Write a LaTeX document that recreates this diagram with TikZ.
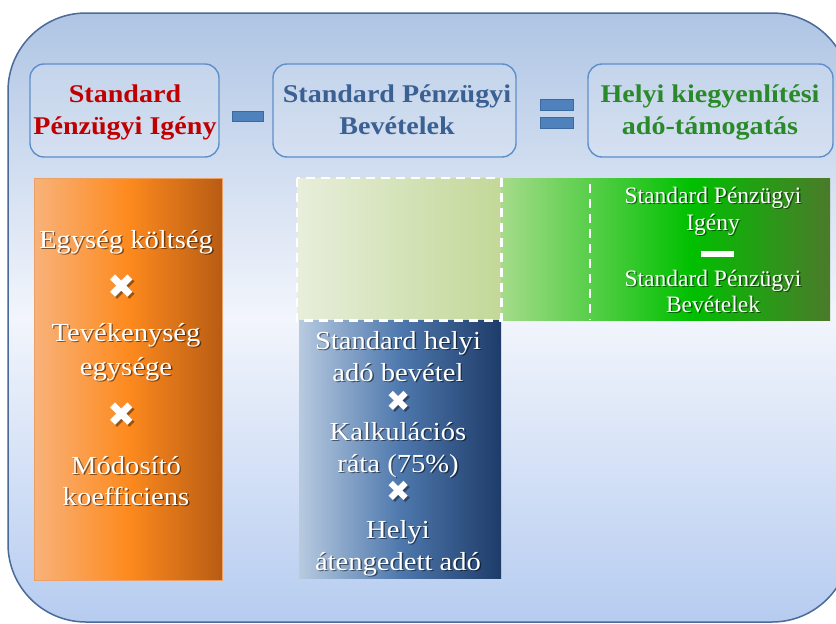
\documentclass[tikz,border=0pt]{standalone}
\usepackage{fontspec}
\newfontfamily\wideserif{Liberation Serif}[FakeStretch=1.1]
\newfontfamily\plainserif{Liberation Serif}
\newfontfamily\symfont{DejaVu Sans}
\definecolor{bgtop}{HTML}{AFC5E4}
\definecolor{bgmid}{HTML}{F2F5FC}
\definecolor{bgbot}{HTML}{B6CCF0}
\definecolor{bgline}{HTML}{4A6A9A}
\definecolor{boxline}{HTML}{5E8FCB}
\definecolor{opfill}{HTML}{4F81BD}
\definecolor{opline}{HTML}{3A6AA0}
\definecolor{hred}{HTML}{C00000}
\definecolor{hblue}{HTML}{3B6192}
\definecolor{hgreen}{HTML}{2A8A2A}
\definecolor{orL}{HTML}{F8B27A}
\definecolor{orM}{HTML}{FD8A1E}
\definecolor{orR}{HTML}{B85C14}
\definecolor{blL}{HTML}{B7CAE0}
\definecolor{blM}{HTML}{4E78AD}
\definecolor{blR}{HTML}{1E3C69}
\definecolor{paleL}{HTML}{E8EEDB}
\definecolor{paleR}{HTML}{C2D898}
\definecolor{grL}{HTML}{A5DB8A}
\definecolor{grM}{HTML}{00C000}
\definecolor{grR}{HTML}{4B7A2A}
\newcommand\hfont{\wideserif\bfseries\fontsize{25.5}{30}\selectfont}
\newcommand\ofont{\wideserif\fontsize{26}{30}\selectfont}
\newcommand\gfont{\plainserif\fontsize{23.5}{28}\selectfont}
% white line of text with a soft dark shadow: name, x, y, font, text
\newcommand\wline[5]{%
  \node[anchor=base,inner sep=0pt,text=black,opacity=0.5,font=#4] (#1s) at (#2+1.4,#3+1.4) {#5};
  \node[anchor=base,inner sep=0pt,text=white,font=#4] (#1) at (#2,#3) {#5};}
% heavy white multiplication sign: name, x, y, size
\newcommand\wcross[4]{%
  \node[xsign,text=black,opacity=0.4,font={\symfont\fontsize{#4}{#4}\selectfont}] (#1s) at (#2+1.3,#3+1.3) {✖};
  \node[xsign,text=white,font={\symfont\fontsize{#4}{#4}\selectfont}] (#1) at (#2,#3) {✖};}
\begin{document}
\begin{tikzpicture}[x=1pt,y=-1pt,
  topbox/.style={draw=boxline,line width=1.4pt,rounded corners=14pt,fill=white,fill opacity=0.15,inner sep=0pt},
  opbar/.style={draw=opline,line width=0.8pt,fill=opfill,inner sep=0pt},
  hline/.style={anchor=base,inner sep=0pt,font=\hfont},
  xsign/.style={inner sep=0pt,text height=0.55em,text depth=0pt},
  dashline/.style={draw=white,line width=2.6pt,dash pattern=on 9pt off 6pt}]
\useasboundingbox (0,0) rectangle (836,624);
% background panel
\path[top color=bgtop,bottom color=bgbot,middle color=bgmid,rounded corners=78pt]
  (8,13) rectangle (850,622);
\draw[bgline,line width=1.5pt,rounded corners=78pt] (8,13) rectangle (850,622);
% top boxes
\node[topbox,minimum width=189,minimum height=93] (b1) at (124.5,110.5) {};
\node[topbox,minimum width=243,minimum height=93] (b2) at (394.5,110.5) {};
\node[topbox,minimum width=245,minimum height=93] (b3) at (710.5,110.5) {};
\node[hline,text=hred] (h1a) at (125,102) {Standard};
\node[hline,text=hred] (h1b) at (125,134) {Pénzügyi Igény};
\node[hline,text=hblue] (h2a) at (397,102) {Standard Pénzügyi};
\node[hline,text=hblue] (h2b) at (397,134) {Bevételek};
\node[hline,text=hgreen] (h3a) at (710,102) {Helyi kiegyenlítési};
\node[hline,text=hgreen] (h3b) at (710,134) {adó-támogatás};
% operators
\node[opbar,minimum width=31,minimum height=10] (minus) at (247.5,116) {};
\node[opbar,minimum width=33,minimum height=11] (eqa) at (556.5,104.5) {};
\node[opbar,minimum width=33,minimum height=11] (eqb) at (556.5,122.5) {};
% orange column
\node[draw=orL!80!orR,line width=0.6pt,left color=orL,right color=orR,middle color=orM,
  minimum width=188,minimum height=402,inner sep=0pt] (orange) at (128,379) {};
% pale dashed area and green bar
\node[left color=paleL,right color=paleR,minimum width=204,minimum height=142,inner sep=0pt] (pale) at (399,249) {};
\node[left color=grL,right color=grM,minimum width=190,minimum height=142,inner sep=0pt] (greenA) at (596,249) {};
\node[left color=grM,right color=grR,minimum width=140,minimum height=142,inner sep=0pt] (greenB) at (760,249) {};
% blue column
\node[left color=blL,right color=blR,middle color=blM,minimum width=202,minimum height=258,inner sep=0pt] (blue) at (400,449) {};
% dashed outlines
\draw[dashline] (pale.north west) rectangle (pale.south east);
\coordinate (dtop) at (590,184);
\coordinate (dbot) at (590,320);
\draw[dashline] (dtop) -- (dbot);
% orange texts
\wline{o1}{126}{248}{\ofont}{Egység költség}
\wcross{ox1}{122}{296}{34}
\wline{o2}{126}{341}{\ofont}{Tevékenység}
\wline{o3}{126}{375}{\ofont}{egysége}
\wcross{ox2}{122}{424}{34}
\wline{o4}{126}{474}{\ofont}{Módosító}
\wline{o5}{126}{505}{\ofont}{koefficiens}
% blue texts
\wline{u1}{398}{349}{\ofont}{Standard helyi}
\wline{u2}{398}{381}{\ofont}{adó bevétel}
\wcross{ux1}{399}{409}{29}
\wline{u3}{398}{440}{\ofont}{Kalkulációs}
\wline{u4}{398}{472}{\ofont}{ráta (75\%)}
\wcross{ux2}{399}{499}{29}
\wline{u5}{398}{538}{\ofont}{Helyi}
\wline{u6}{398}{570}{\ofont}{átengedett adó}
% green texts
\wline{g1}{713}{203}{\gfont}{Standard Pénzügyi}
\wline{g2}{713}{230}{\gfont}{Igény}
\node[fill=white,inner sep=0pt,minimum width=33,minimum height=6] (gbar) at (717,254) {};
\wline{g3}{713}{286}{\gfont}{Standard Pénzügyi}
\wline{g4}{713}{312}{\gfont}{Bevételek}
\end{tikzpicture}
\end{document}
